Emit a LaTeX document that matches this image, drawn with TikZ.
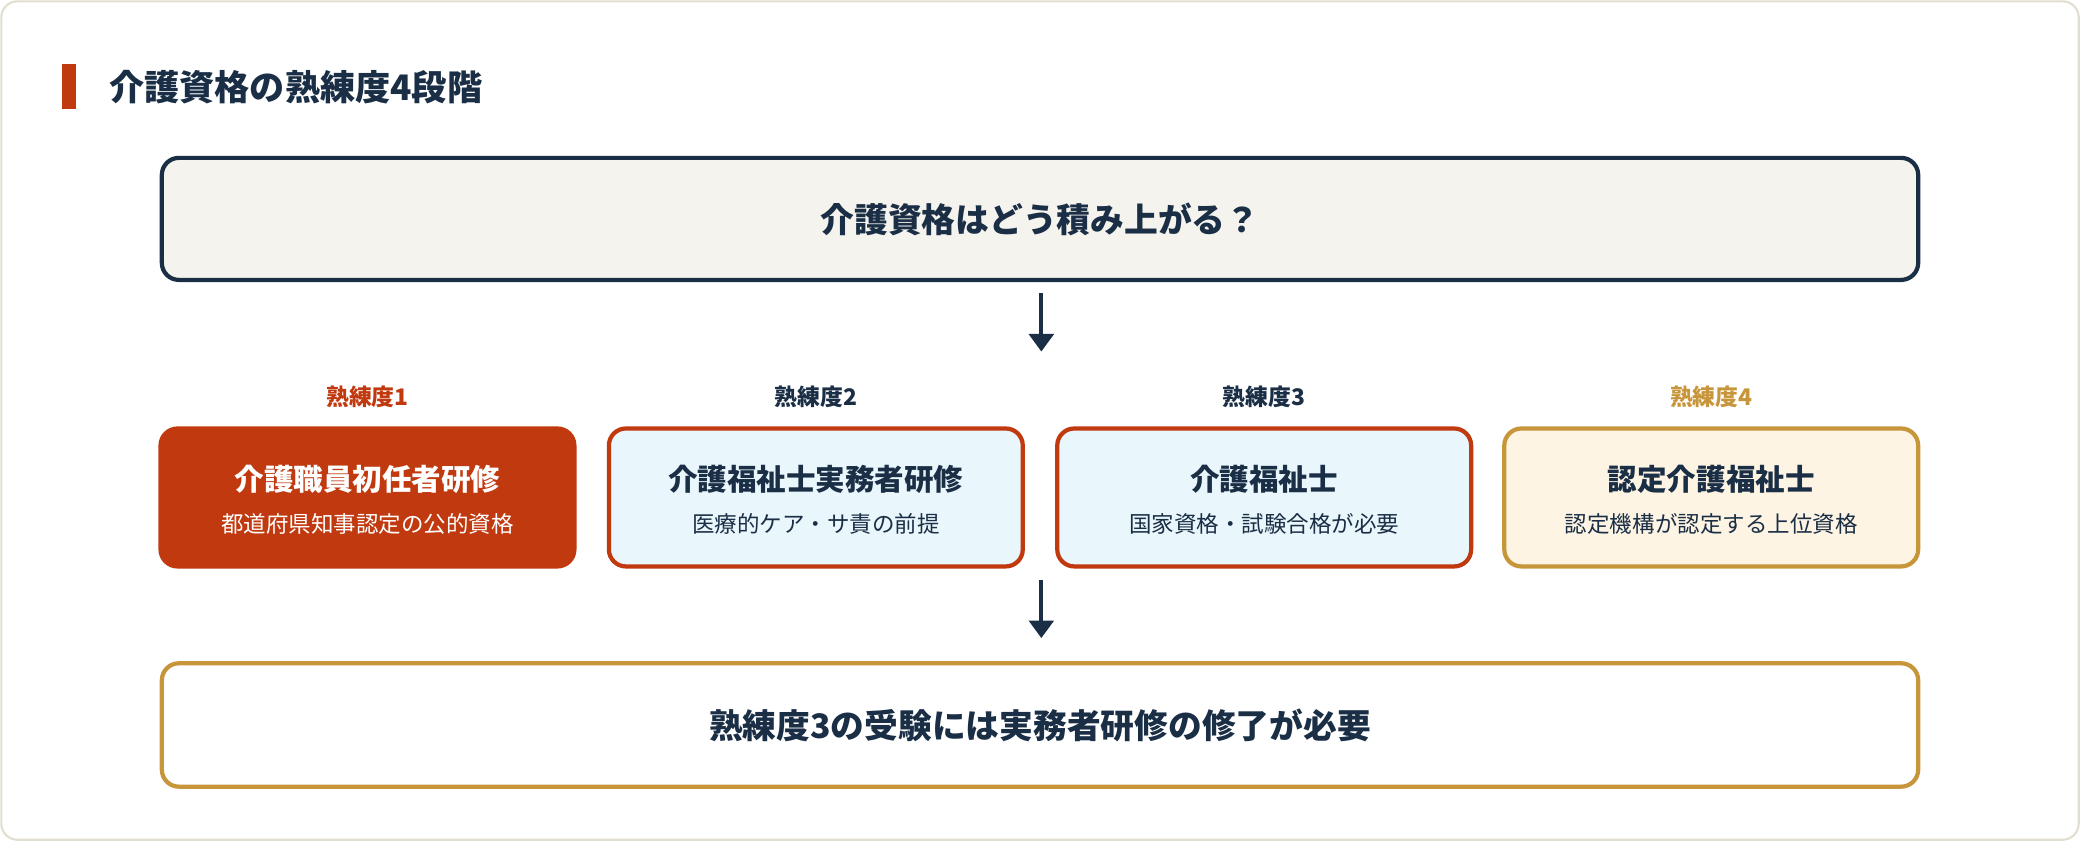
\documentclass[tikz,border=0pt]{standalone}
\usepackage{fontspec}
\setmainfont{Noto Sans CJK JP}
\usetikzlibrary{arrows.meta}
\definecolor{navy}{HTML}{1A2E45}
\definecolor{rust}{HTML}{C0390F}
\definecolor{gold}{HTML}{C8963A}
\definecolor{cream}{HTML}{F5F3EE}
\definecolor{ice}{HTML}{E9F6FB}
\definecolor{peach}{HTML}{FDF4E3}
\definecolor{edge}{HTML}{E2DECF}
\begin{document}
\begin{tikzpicture}[x=0.013265cm,y=-0.013265cm,
  box/.style={rounded corners=0.17cm,line width=1.2pt,inner sep=0pt},
  lvl/.style={font=\fontsize{6.5}{8}\selectfont\bfseries},
  ttl/.style={font=\fontsize{8.4}{10}\selectfont\bfseries},
  sub/.style={font=\fontsize{6.4}{8}\selectfont},
  arr/.style={-{Triangle[length=5pt,width=7pt]},line width=1.1pt,draw=navy}]
\useasboundingbox (0,0) rectangle (1568,634);
\draw[edge,fill=white,rounded corners=0.16cm,line width=0.6pt] (1,1) rectangle (1567,633);
\fill[rust] (47,48) rectangle (57,82);
\node[anchor=west,text=navy,font=\fontsize{10}{12}\selectfont\bfseries] (title) at (73,66) {介護資格の熟練度4段階};
\draw[box,draw=navy,fill=cream] (122,119) rectangle (1446,211);
\node[text=navy,font=\fontsize{9.6}{12}\selectfont\bfseries] (top) at (784,165) {介護資格はどう積み上がる？};
\coordinate (a1) at (785,221); \coordinate (a2) at (785,265);
\draw[arr] (a1) -- (a2);
% level boxes
\draw[box,draw=rust,fill=rust] (121,323) rectangle (433,427);
\draw[box,draw=rust,fill=ice] (459,323) rectangle (771,427);
\draw[box,draw=rust,fill=ice] (797,323) rectangle (1109,427);
\draw[box,draw=gold,fill=peach] (1134,323) rectangle (1446,427);
\node[lvl,text=rust] (l1) at (277,299) {熟練度1};
\node[lvl,text=navy] (l2) at (615,299) {熟練度2};
\node[lvl,text=navy] (l3) at (953,299) {熟練度3};
\node[lvl,text=gold] (l4) at (1290,299) {熟練度4};
\node[ttl,text=white] (t1) at (277,361) {介護職員初任者研修};
\node[sub,text=white] (s1) at (277,395) {都道府県知事認定の公的資格};
\node[ttl,text=navy] (t2) at (615,361) {介護福祉士実務者研修};
\node[sub,text=navy] (s2) at (615,395) {医療的ケア・サ責の前提};
\node[ttl,text=navy] (t3) at (953,361) {介護福祉士};
\node[sub,text=navy] (s3) at (953,395) {国家資格・試験合格が必要};
\node[ttl,text=navy] (t4) at (1290,361) {認定介護福祉士};
\node[sub,text=navy] (s4) at (1290,395) {認定機構が認定する上位資格};
\coordinate (b1) at (785,437); \coordinate (b2) at (785,481);
\draw[arr] (b1) -- (b2);
\draw[box,draw=gold,fill=white] (122,500) rectangle (1446,593);
\node[text=navy,font=\fontsize{9.6}{12}\selectfont\bfseries] (bot) at (784,547) {熟練度3の受験には実務者研修の修了が必要};
\end{tikzpicture}
\end{document}
